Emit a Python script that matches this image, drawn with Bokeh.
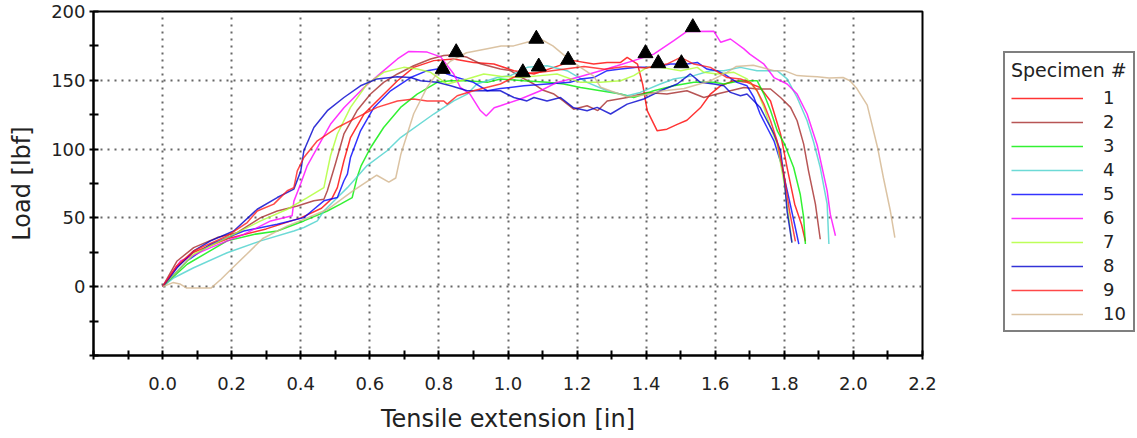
from bokeh.plotting import figure
from bokeh.models import Legend, LegendItem, FixedTicker, CustomJSTickFormatter
from bokeh.embed import file_html
from bokeh.resources import INLINE

# ---- data ----
specimens = ["1", "2", "3", "4", "5", "6", "7", "8", "9", "10"]
colors = ["#FF0000", "#A52A2A", "#00EE00", "#48D1CC", "#0000FF",
          "#FF00FF", "#ADFF2F", "#0000CD", "#FF1A1A", "#D2B48C"]

x1 = [0, 0.04, 0.09, 0.19, 0.3, 0.4, 0.46, 0.49, 0.506, 0.525, 0.544, 0.583, 0.631, 0.68, 0.727, 0.785,
      0.843, 0.9, 0.959, 1.017, 1.075, 1.133, 1.19, 1.248, 1.287, 1.326, 1.345, 1.375, 1.39, 1.403, 1.432,
      1.46, 1.49, 1.518, 1.557, 1.586, 1.615, 1.654, 1.692, 1.73, 1.76, 1.789, 1.808, 1.83, 1.85, 1.861]
y1 = [0, 14, 25, 35, 42, 50, 57, 64, 72, 91.5, 108.4, 125.5, 137.5, 149.7, 159.4, 164.3,
      165.5, 163, 161.8, 157, 154.6, 159.4, 164.3, 161.8, 163, 163, 166.7, 161.8, 147, 128, 113.3,
      114.5, 118, 121, 130, 140, 146, 149.7, 148.5, 144.8, 135, 111, 86.6, 60, 45, 33]

x2 = [0, 0.042, 0.09, 0.158, 0.216, 0.284, 0.332, 0.39, 0.438, 0.467, 0.477, 0.5, 0.525, 0.563, 0.602,
      0.64, 0.68, 0.727, 0.776, 0.814, 0.85, 0.882, 0.92, 0.978, 1.007, 1.04, 1.075, 1.1, 1.133, 1.16,
      1.19, 1.229, 1.26, 1.287, 1.345, 1.403, 1.46, 1.518, 1.567, 1.605, 1.644, 1.683, 1.721, 1.76,
      1.789, 1.818, 1.837, 1.856, 1.87, 1.89, 1.904]
y2 = [0, 18.7, 28.4, 35.7, 39.3, 50.2, 55, 58.7, 62.4, 63.6, 69.7, 89, 111, 128, 140,
      148.5, 154.6, 160.6, 165.5, 168, 168.5, 166.7, 162, 158.2, 157, 152, 147.3, 143, 140, 135,
      129, 131.5, 128, 135, 137.5, 141.2, 140, 142.4, 137.5, 140, 142.4, 144.8, 143.7, 143.7,
      137.5, 130.3, 120.6, 103.6, 84.2, 60, 34.5]

x3 = [0, 0.071, 0.187, 0.264, 0.332, 0.409, 0.477, 0.515, 0.549, 0.563, 0.575, 0.602, 0.64, 0.689,
      0.737, 0.795, 0.834, 0.882, 0.94, 0.978, 1.046, 1.113, 1.161, 1.21, 1.268, 1.326, 1.364, 1.422,
      1.48, 1.538, 1.596, 1.625, 1.673, 1.721, 1.741, 1.76, 1.78, 1.8, 1.827, 1.846, 1.856, 1.861]
y3 = [0, 16.3, 33.3, 38, 40.5, 47.8, 55, 60, 64.8, 79.3, 88, 101, 115.7, 130.3,
      140, 148.5, 149.7, 149.7, 148.5, 151, 149.7, 148.5, 147.3, 144.8, 142.4, 140, 137.5, 142.4,
      146, 148.5, 148.5, 147.3, 149.7, 149.7, 140, 128, 113, 104, 86.6, 67.2, 50.2, 31]

x4 = [0, 0.033, 0.09, 0.187, 0.284, 0.38, 0.409, 0.448, 0.467, 0.515, 0.535, 0.592, 0.65, 0.689,
      0.785, 0.843, 0.882, 0.91, 0.969, 1.007, 1.056, 1.113, 1.171, 1.229, 1.287, 1.345, 1.383, 1.441,
      1.48, 1.538, 1.586, 1.625, 1.673, 1.721, 1.779, 1.808, 1.837, 1.866, 1.885, 1.904, 1.924, 1.929]
y4 = [0, 6.5, 13.8, 24.7, 33.3, 40.5, 43, 47.8, 55, 67, 72, 88, 98.8, 108.4,
      125.5, 135, 140, 147.3, 152, 153.4, 159.4, 160.6, 157, 148.5, 142.4, 138.8, 141.2, 147.3,
      151, 153.4, 157, 157, 159.4, 157, 157, 151, 137.5, 120.6, 105, 86.6, 60, 31]

x5 = [0, 0.071, 0.139, 0.235, 0.332, 0.409, 0.438, 0.467, 0.506, 0.525, 0.535, 0.544, 0.573, 0.612,
      0.66, 0.718, 0.766, 0.795, 0.824, 0.853, 0.9, 0.94, 0.978, 1.046, 1.113, 1.18, 1.21, 1.248,
      1.287, 1.326, 1.374, 1.422, 1.47, 1.518, 1.548, 1.576, 1.605, 1.625, 1.663, 1.692, 1.712, 1.73,
      1.75, 1.77, 1.79, 1.81, 1.83, 1.842]
y5 = [0, 18.7, 30.9, 40.5, 45.4, 50.2, 56.3, 62.4, 64.8, 77, 81.8, 93.9, 113.3, 130.3,
      142.4, 152, 157, 158.2, 154.6, 152, 148.5, 142.4, 144, 146, 147.3, 148.5, 151, 152,
      157, 158.2, 159.4, 159.4, 161.8, 161.8, 163, 158.2, 157, 154.6, 148.5, 146, 137.5, 125.5,
      115.7, 106, 90, 68, 45, 31]

x6 = [0, 0.052, 0.139, 0.235, 0.313, 0.375, 0.38, 0.4, 0.419, 0.448, 0.486, 0.525, 0.583, 0.64, 0.68,
      0.713, 0.766, 0.805, 0.843, 0.862, 0.89, 0.92, 0.937, 0.96, 0.978, 1.036, 1.094, 1.142, 1.2,
      1.268, 1.316, 1.364, 1.422, 1.48, 1.518, 1.596, 1.616, 1.644, 1.683, 1.70, 1.74, 1.77, 1.808,
      1.837, 1.866, 1.895, 1.924, 1.933, 1.948]
y6 = [0, 18.7, 28.4, 38, 47.8, 51.5, 62, 75, 88, 101, 118, 130, 144.8, 157, 165.5,
      171, 170.5, 167, 154.6, 144.8, 140, 128, 124, 130, 131.5, 136.4, 142.4, 148.5, 152,
      157, 160.6, 164.3, 169, 178.8, 185.5, 185.6, 177.6, 180, 172.8, 169, 162, 152, 147.3,
      140, 125.5, 103, 69.6, 52.7, 37]

x7 = [0, 0.09, 0.187, 0.284, 0.361, 0.419, 0.467, 0.477, 0.486, 0.506, 0.544, 0.592, 0.64, 0.698,
      0.737, 0.776, 0.824, 0.882, 0.93, 0.978, 1.036, 1.094, 1.142, 1.21, 1.268, 1.326, 1.364, 1.403,
      1.441, 1.5, 1.548, 1.567, 1.605, 1.654, 1.692, 1.721, 1.741, 1.76, 1.779, 1.8, 1.813, 1.822]
y7 = [0, 23.6, 35.7, 47.8, 56.3, 64.8, 72, 84.2, 95, 111, 130.3, 147.3, 155.8, 159.4,
      158.2, 155.8, 147.3, 151, 154.6, 153, 152, 153.4, 154.6, 148.5, 148.5, 149.7, 153.4, 159.4,
      159.4, 157, 159.4, 155.8, 154.6, 155.8, 151, 142.4, 130.3, 115.7, 103.6, 74.5, 50.2, 32]

x8 = [0, 0.042, 0.09, 0.139, 0.206, 0.274, 0.332, 0.38, 0.4, 0.409, 0.438, 0.477, 0.525, 0.573,
      0.621, 0.68, 0.718, 0.747, 0.795, 0.834, 0.882, 0.94, 0.978, 1.017, 1.055, 1.075, 1.113, 1.152,
      1.19, 1.229, 1.258, 1.297, 1.345, 1.393, 1.441, 1.49, 1.528, 1.557, 1.596, 1.625, 1.644, 1.673,
      1.692, 1.712, 1.73, 1.75, 1.77, 1.789, 1.80, 1.808, 1.822]
y8 = [0, 13.8, 26, 33.3, 40.5, 56.3, 64.8, 70.9, 84, 98.8, 115.7, 127.9, 137.5, 146,
      151, 152.6, 152, 149.7, 148.5, 146, 142.4, 142.4, 142.4, 137.5, 135, 137.5, 135, 137.5,
      130, 127.9, 130.3, 125.5, 132.7, 136.4, 142.4, 147.3, 154.6, 148.5, 147.3, 146, 141.2, 138.8,
      140, 135, 130.3, 120.6, 111, 98.8, 78, 55, 32]

x9 = [0, 0.04, 0.09, 0.187, 0.245, 0.274, 0.322, 0.361, 0.38, 0.39, 0.409, 0.448, 0.506, 0.563,
      0.621, 0.68, 0.727, 0.766, 0.814, 0.824, 0.853, 0.9, 0.978, 1.036, 1.1, 1.16, 1.22, 1.28, 1.34,
      1.4, 1.46, 1.5, 1.538, 1.586, 1.634, 1.673, 1.702, 1.721, 1.741, 1.76, 1.779, 1.80, 1.815, 1.832]
y9 = [0, 15, 26, 36.9, 46.6, 55, 60, 69.7, 72, 84.2, 93.9, 106, 115.7, 123,
      130.3, 135, 136.4, 135, 135, 132.7, 138.8, 142.4, 147.3, 154.6, 156, 158, 160, 158, 160,
      159, 161.8, 166.7, 161.8, 159.4, 152, 151, 148.5, 142.4, 132.7, 120.6, 106, 80, 55, 33]

x10 = [0, 0.03, 0.05, 0.07, 0.1, 0.14, 0.17, 0.2, 0.245, 0.29, 0.36, 0.41, 0.48, 0.55, 0.62, 0.655,
       0.675, 0.69, 0.727, 0.766, 0.795, 0.834, 0.88, 0.94, 0.98, 1.016, 1.055, 1.094, 1.13, 1.17,
       1.21, 1.248, 1.268, 1.30, 1.345, 1.383, 1.41, 1.44, 1.51, 1.557, 1.586, 1.634, 1.66, 1.71,
       1.77, 1.80, 1.837, 1.866, 1.895, 1.93, 1.97, 1.99, 2.01, 2.04, 2.07, 2.087, 2.107, 2.12]
y10 = [0, 3, 2, -1, -1, -1, 5.6, 13, 24, 35, 44, 49, 56.5, 69.5, 81, 76,
       79, 96.5, 125.7, 145, 155, 164, 170, 173, 175, 175, 177.6, 180, 175, 166.7,
       159.4, 153, 145, 142, 138, 139, 140, 142, 144, 147.5, 149.7, 155.8, 160, 161,
       157, 157, 153.4, 153, 152.5, 151.6, 152, 149.7, 144, 132, 101, 79, 55, 35.7]

peak_x = [0.811, 0.850, 1.043, 1.082, 1.089, 1.174, 1.398, 1.435, 1.502, 1.535]
peak_y = [158.2, 170.3, 155.7, 180.1, 159.9, 164.8, 169.6, 162.3, 162.3, 188.5]

x_major = [0, 0.2, 0.4, 0.6, 0.8, 1.0, 1.2, 1.4, 1.6, 1.8, 2.0, 2.2]
x_minor = [-0.2, -0.1, 0.1, 0.3, 0.5, 0.7, 0.9, 1.1, 1.3, 1.5, 1.7, 1.9, 2.1]
y_major = [0, 50, 100, 150, 200]
y_minor = [-50, -25, 25, 75, 125, 175]

xs = [x1, x2, x3, x4, x5, x6, x7, x8, x9, x10]
ys = [y1, y2, y3, y4, y5, y6, y7, y8, y9, y10]

FONT = "DejaVu Sans"

p = figure(frame_width=829, frame_height=344, output_backend="svg", toolbar_location=None,
           x_range=(-0.2, 2.2), y_range=(-50, 200),
           min_border_left=93, min_border_right=215, min_border_top=11, min_border_bottom=20)

p.outline_line_color = "black"
p.outline_line_width = 2
p.background_fill_color = "white"
p.border_fill_color = "white"

renderers = []
for xv, yv, c in zip(xs, ys, colors):
    r = p.line(xv, yv, line_color=c, line_width=1.5, line_alpha=0.8)
    renderers.append(r)

p.scatter(peak_x, peak_y, marker="triangle", size=15, fill_color="black", line_color="black")

# axes
p.xaxis.ticker = FixedTicker(ticks=x_major, minor_ticks=x_minor)
p.yaxis.ticker = FixedTicker(ticks=y_major, minor_ticks=y_minor)
p.xaxis.formatter = CustomJSTickFormatter(code="return tick.toFixed(1);")

for ax in (p.xaxis[0], p.yaxis[0]):
    ax.axis_line_color = "black"
    ax.axis_line_width = 2
    ax.major_tick_line_color = "black"
    ax.major_tick_line_width = 2
    ax.minor_tick_line_color = "black"
    ax.minor_tick_line_width = 2
    ax.major_tick_in = 5
    ax.major_tick_out = 4
    ax.minor_tick_in = 5
    ax.minor_tick_out = 4
    ax.major_label_text_font = FONT
    ax.major_label_text_font_size = "18px"
    ax.major_label_text_color = "#222222"
    ax.axis_label_text_font = FONT
    ax.axis_label_text_font_size = "24px"
    ax.axis_label_text_font_style = "normal"
    ax.axis_label_text_color = "#222222"

p.xaxis.axis_label = "Tensile extension [in]"
p.yaxis.axis_label = "Load [lbf]"
p.xaxis.major_label_standoff = 17
p.xaxis.axis_label_standoff = 12
p.yaxis.major_label_standoff = 4
p.yaxis.axis_label_standoff = 12

for g in (p.xgrid[0], p.ygrid[0]):
    g.grid_line_color = "#666666"
    g.grid_line_width = 2
    g.grid_line_dash = "2 5"

legend = Legend(items=[LegendItem(label=s, renderers=[r]) for s, r in zip(specimens, renderers)],
                location=(81, 23))
legend.title = "Specimen #"
legend.title_text_font = FONT
legend.title_text_font_size = "19px"
legend.title_text_font_style = "normal"
legend.title_text_color = "#222222"
legend.title_standoff = 6
legend.label_text_font = FONT
legend.label_text_font_size = "18px"
legend.label_text_color = "#222222"
legend.glyph_width = 72
legend.glyph_height = 20
legend.label_height = 20
legend.label_standoff = 20
legend.spacing = 3
legend.padding = 6
legend.margin = 0
legend.border_line_color = "black"
legend.border_line_width = 2
legend.background_fill_color = "white"
legend.background_fill_alpha = 1
p.add_layout(legend, "right")

open("out.html", "w").write(file_html(p, INLINE))
